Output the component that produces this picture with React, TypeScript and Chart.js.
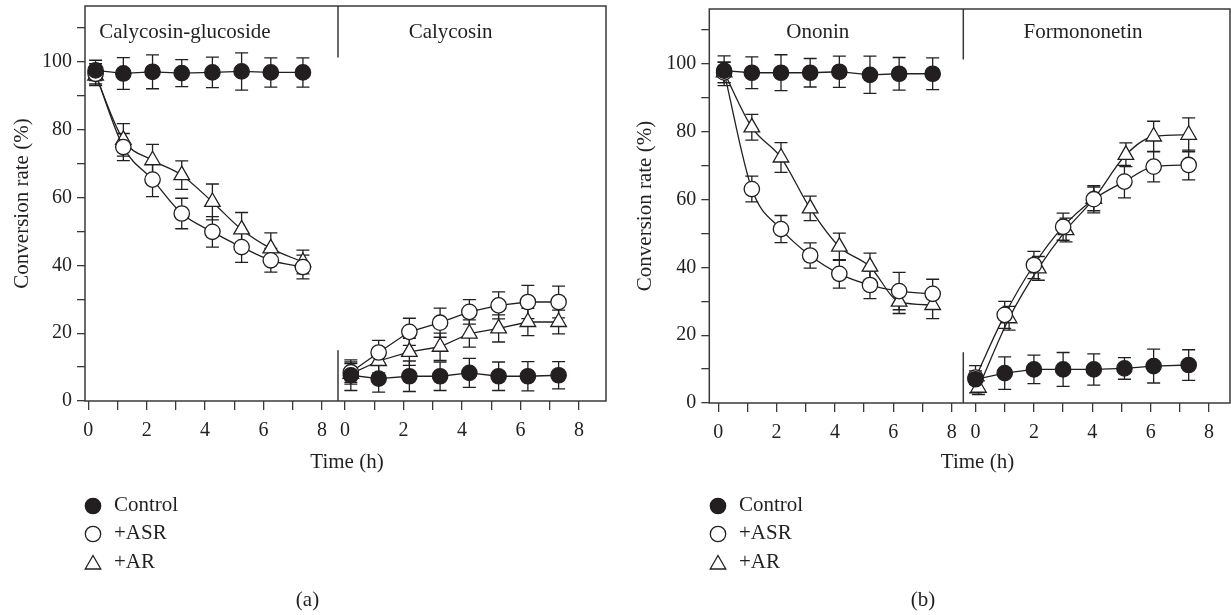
import React, { useEffect, useRef } from "react";
import { Chart, registerables } from "chart.js";

Chart.register(...registerables);

const FONT = "'Liberation Serif', 'Times New Roman', serif";
const INK = "#231f20";
const AXIS = "#3a3a3a";

const X_TICKS = [0, 1, 2, 3, 4, 5, 6, 7, 8];
const Y_TICKS = [0, 10, 20, 30, 40, 50, 60, 70, 80, 90, 100, 110];
const LEGEND_LABELS = ["Control", "+ASR", "+AR"];
const X_TITLE = "Time (h)";
const Y_TITLE = "Conversion rate (%)";

// ---- Panel (a), left: Calycosin-glucoside
const A1_TITLE = "Calycosin-glucoside";
const A1_TIME = [0.25, 1.2, 2.2, 3.2, 4.25, 5.25, 6.25, 7.35];
const A1_CONTROL = [97.5, 96.6, 97.1, 96.7, 96.9, 97.2, 96.9, 96.9];
const A1_CONTROL_ERR = [3, 4.7, 5, 4, 4.5, 5.5, 4.3, 4.3];
const A1_ASR = [96.5, 74.9, 65.3, 55.3, 49.9, 45.4, 41.5, 39.5];
const A1_ASR_ERR = [3, 4, 5, 4.5, 4.5, 4.5, 3.5, 3.5];
const A1_AR = [96, 77, 71, 66.6, 58.7, 50.6, 45, 41];
const A1_AR_ERR = [3, 4.8, 4.7, 4.2, 5.3, 5, 4.6, 3.5];

// ---- Panel (a), right: Calycosin
const A2_TITLE = "Calycosin";
const A2_TIME = [0.2, 1.15, 2.2, 3.25, 4.25, 5.25, 6.25, 7.3];
const A2_CONTROL = [7.6, 6.6, 7.3, 7.3, 8.3, 7.3, 7.3, 7.6];
const A2_CONTROL_ERR = [4.5, 4, 4.5, 4.2, 4.3, 4.2, 4.3, 4];
const A2_ASR = [8.5, 14.3, 20.4, 23.1, 26.3, 28.2, 29.2, 29.2];
const A2_ASR_ERR = [3, 3.6, 4, 4.3, 3.6, 4, 4.9, 4.7];
const A2_AR = [8, 11.8, 14.5, 16, 19.9, 21.4, 23.3, 23.3];
const A2_AR_ERR = [3, 3.5, 4, 4, 4, 4, 4, 3.5];

// ---- Panel (b), left: Ononin
const B1_TITLE = "Ononin";
const B1_TIME = [0.2, 1.15, 2.15, 3.15, 4.15, 5.2, 6.2, 7.35];
const B1_CONTROL = [98.0, 97.4, 97.4, 97.4, 97.7, 96.8, 97.1, 97.1];
const B1_CONTROL_ERR = [4.4, 4.7, 5.3, 4.2, 4.6, 5.5, 4.8, 4.7];
const B1_ASR = [97.5, 63.1, 51.3, 43.5, 38.1, 34.8, 33.0, 32.2];
const B1_ASR_ERR = [3, 3.8, 4, 3.7, 4.2, 4, 5.5, 4.3];
const B1_AR = [97.5, 81.3, 72.4, 57.4, 46.1, 40.2, 29.9, 28.9];
const B1_AR_ERR = [3, 3.8, 4.4, 3.6, 4, 4, 3.5, 4];

// ---- Panel (b), right: Formononetin
const B2_TITLE = "Formononetin";
const B2_TIME = [0, 1, 2, 3, 4.05, 5.1, 6.1, 7.3];
const B2_AR_TIME = [0.1, 1.15, 2.15, 3.1, 4.05, 5.15, 6.1, 7.3];
const B2_CONTROL = [7.0, 8.8, 9.9, 9.9, 9.9, 10.2, 10.9, 11.2];
const B2_CONTROL_ERR = [4, 4.8, 4.2, 5, 4.6, 3.2, 5, 4.5];
const B2_ASR = [7.5, 26.0, 40.7, 52.0, 60.1, 65.3, 69.7, 70.2];
const B2_ASR_ERR = [2, 4, 4, 4, 4, 4.8, 4.5, 4.4];
const B2_AR = [4.5, 25.0, 39.7, 51.0, 60.2, 73.2, 78.6, 79.1];
const B2_AR_ERR = [2, 3.5, 3.5, 3.5, 3.5, 3.5, 4.5, 5];

type Kind = "fill" | "open" | "tri";
type Series = {
  label: string;
  xs: number[];
  ys: number[];
  errs: number[];
  kind: Kind;
  axis: "x1" | "x2";
  smooth: boolean;
};

type PanelCfg = {
  left: number;
  width: number;
  yAxisW: number;
  padTop: number;
  padRight: number;
  padBottom: number;
  yMax: number;
  x1: { min: number; max: number; weight: number };
  x2: { min: number; max: number; weight: number };
  title1: string;
  title1At: number;
  title2: string;
  title2At: number;
  yTitleX: number;
  legendX: number;
  label: string;
  series: Series[];
};

const PANEL_A: PanelCfg = {
  left: 0,
  width: 615,
  yAxisW: 85,
  padTop: 6,
  padRight: 9,
  padBottom: 174,
  yMax: 116.5,
  x1: { min: -0.113, max: 8.551, weight: 253 },
  x2: { min: -0.239, max: 8.92, weight: 268 },
  title1: A1_TITLE,
  title1At: 3.31,
  title2: A2_TITLE,
  title2At: 3.61,
  yTitleX: 22,
  legendX: 93,
  label: "(a)",
  series: [
    { label: "Control", xs: A1_TIME, ys: A1_CONTROL, errs: A1_CONTROL_ERR, kind: "fill", axis: "x1", smooth: false },
    { label: "+ASR", xs: A1_TIME, ys: A1_ASR, errs: A1_ASR_ERR, kind: "open", axis: "x1", smooth: true },
    { label: "+AR", xs: A1_TIME, ys: A1_AR, errs: A1_AR_ERR, kind: "tri", axis: "x1", smooth: true },
    { label: "Control", xs: A2_TIME, ys: A2_CONTROL, errs: A2_CONTROL_ERR, kind: "fill", axis: "x2", smooth: false },
    { label: "+ASR", xs: A2_TIME, ys: A2_ASR, errs: A2_ASR_ERR, kind: "open", axis: "x2", smooth: false },
    { label: "+AR", xs: A2_TIME, ys: A2_AR, errs: A2_AR_ERR, kind: "tri", axis: "x2", smooth: false },
  ],
};

const PANEL_B: PanelCfg = {
  left: 615,
  width: 616,
  yAxisW: 94.3,
  padTop: 9,
  padRight: 1,
  padBottom: 172,
  yMax: 116.2,
  x1: { min: -0.308, max: 8.4, weight: 254 },
  x2: { min: -0.418, max: 8.715, weight: 266.7 },
  title1: B1_TITLE,
  title1At: 3.41,
  title2: B2_TITLE,
  title2At: 3.68,
  yTitleX: 30,
  legendX: 103,
  label: "(b)",
  series: [
    { label: "Control", xs: B1_TIME, ys: B1_CONTROL, errs: B1_CONTROL_ERR, kind: "fill", axis: "x1", smooth: false },
    { label: "+ASR", xs: B1_TIME, ys: B1_ASR, errs: B1_ASR_ERR, kind: "open", axis: "x1", smooth: true },
    { label: "+AR", xs: B1_TIME, ys: B1_AR, errs: B1_AR_ERR, kind: "tri", axis: "x1", smooth: true },
    { label: "Control", xs: B2_TIME, ys: B2_CONTROL, errs: B2_CONTROL_ERR, kind: "fill", axis: "x2", smooth: false },
    { label: "+ASR", xs: B2_TIME, ys: B2_ASR, errs: B2_ASR_ERR, kind: "open", axis: "x2", smooth: true },
    { label: "+AR", xs: B2_AR_TIME, ys: B2_AR, errs: B2_AR_ERR, kind: "tri", axis: "x2", smooth: true },
  ],
};

const LEGEND_Y = [506, 534, 563];
const DIV_TOP = 101.3;
const DIV_BOTTOM = 15;

function drawMarker(ctx: CanvasRenderingContext2D, kind: Kind, x: number, y: number) {
  ctx.save();
  ctx.lineWidth = 1.3;
  ctx.strokeStyle = INK;
  ctx.beginPath();
  if (kind === "tri") {
    const r = 9;
    for (let k = 0; k < 3; k++) {
      const ang = (k * 2 * Math.PI) / 3;
      const px = x + Math.sin(ang) * r;
      const py = y + 1.5 - Math.cos(ang) * r;
      if (k === 0) ctx.moveTo(px, py);
      else ctx.lineTo(px, py);
    }
    ctx.closePath();
    ctx.fillStyle = "#fff";
  } else {
    ctx.arc(x, y, 7.7, 0, Math.PI * 2);
    ctx.fillStyle = kind === "fill" ? INK : "#fff";
  }
  ctx.fill();
  ctx.stroke();
  ctx.restore();
}

function Panel({ cfg }: { cfg: PanelCfg }) {
  const ref = useRef<HTMLCanvasElement | null>(null);

  useEffect(() => {
    const canvas = ref.current;
    if (!canvas) return;

    const tickFont = { family: FONT, size: 20 };

    const xScale = (s: { min: number; max: number; weight: number }) => ({
      type: "linear",
      position: "bottom",
      stack: "time",
      stackWeight: s.weight,
      min: s.min,
      max: s.max,
      afterBuildTicks: (sc: any) => {
        sc.ticks = X_TICKS.map((v) => ({ value: v }));
      },
      afterFit: (sc: any) => {
        sc.height = 40;
        sc.paddingLeft = 0;
        sc.paddingRight = 0;
        sc.paddingTop = 0;
        sc.paddingBottom = 0;
      },
      grid: {
        display: true,
        drawOnChartArea: false,
        drawTicks: true,
        tickLength: 9,
        tickWidth: 1.3,
        tickColor: AXIS,
        color: AXIS,
        lineWidth: 1.3,
      },
      border: { display: false },
      ticks: {
        autoSkip: false,
        maxRotation: 0,
        minRotation: 0,
        padding: 9,
        color: INK,
        font: tickFont,
        callback: (v: any) => (Number(v) % 2 === 0 ? String(v) : ""),
      },
    });

    const datasets = cfg.series.map((s) => ({
      label: s.label,
      data: s.xs.map((x, i) => ({ x, y: s.ys[i] })),
      errs: s.errs,
      xAxisID: s.axis,
      yAxisID: "y",
      borderColor: INK,
      borderWidth: 1.3,
      backgroundColor: "transparent",
      fill: false,
      showLine: true,
      tension: 0,
      cubicInterpolationMode: s.smooth ? "monotone" : "default",
      pointStyle: s.kind === "tri" ? "triangle" : "circle",
      pointRadius: s.kind === "tri" ? 9 : 7.7,
      pointHoverRadius: s.kind === "tri" ? 9 : 7.7,
      pointBackgroundColor: s.kind === "fill" ? INK : "#ffffff",
      pointBorderColor: INK,
      pointBorderWidth: 1.3,
      clip: false,
    }));

    const framePlugin = {
      id: "frameAndErrors",
      beforeDatasetsDraw(chart: any) {
        const { ctx, chartArea: a, scales } = chart;
        const y = scales.y;
        const x2 = scales.x2;
        ctx.save();
        ctx.strokeStyle = AXIS;
        ctx.lineWidth = 1.5;
        ctx.strokeRect(a.left, a.top, a.right - a.left, a.bottom - a.top);
        ctx.beginPath();
        ctx.moveTo(x2.left, a.top);
        ctx.lineTo(x2.left, y.getPixelForValue(DIV_TOP));
        ctx.moveTo(x2.left, y.getPixelForValue(DIV_BOTTOM));
        ctx.lineTo(x2.left, a.bottom);
        ctx.stroke();

        // error bars
        ctx.strokeStyle = INK;
        ctx.lineWidth = 1.3;
        const cap = 6.5;
        chart.data.datasets.forEach((ds: any, i: number) => {
          const meta = chart.getDatasetMeta(i);
          meta.data.forEach((pt: any, j: number) => {
            const v = ds.data[j].y;
            const e = ds.errs[j];
            const yt = y.getPixelForValue(v + e);
            const yb = y.getPixelForValue(v - e);
            const x = pt.x;
            ctx.beginPath();
            ctx.moveTo(x, yt);
            ctx.lineTo(x, yb);
            ctx.moveTo(x - cap, yt);
            ctx.lineTo(x + cap, yt);
            ctx.moveTo(x - cap, yb);
            ctx.lineTo(x + cap, yb);
            ctx.stroke();
          });
        });
        ctx.restore();
      },
      afterDraw(chart: any) {
        const { ctx, chartArea: a, scales } = chart;
        const x1 = scales.x1;
        const x2 = scales.x2;
        ctx.save();
        ctx.fillStyle = INK;
        ctx.font = `21px ${FONT}`;
        ctx.textAlign = "center";
        ctx.textBaseline = "middle";
        ctx.fillText(cfg.title1, x1.getPixelForValue(cfg.title1At), 32);
        ctx.fillText(cfg.title2, x2.getPixelForValue(cfg.title2At), 32);
        ctx.fillText(X_TITLE, x2.getPixelForValue(0) + 2, 462);

        ctx.save();
        ctx.translate(cfg.yTitleX, (a.top + a.bottom) / 2);
        ctx.rotate(-Math.PI / 2);
        ctx.fillText(Y_TITLE, 0, 0);
        ctx.restore();

        const kinds: Kind[] = ["fill", "open", "tri"];
        LEGEND_LABELS.forEach((lab, i) => {
          drawMarker(ctx, kinds[i], cfg.legendX, LEGEND_Y[i]);
          ctx.fillStyle = INK;
          ctx.textAlign = "left";
          ctx.fillText(lab, cfg.legendX + 21, LEGEND_Y[i] - 1);
        });

        ctx.textAlign = "center";
        ctx.fillText(cfg.label, chart.width / 2, 600);
        ctx.restore();
      },
    };

    const chart = new Chart(canvas, {
      type: "line",
      data: { datasets } as any,
      options: {
        animation: false,
        responsive: false,
        devicePixelRatio: 1,
        events: [],
        layout: {
          autoPadding: false,
          padding: { left: 0, top: cfg.padTop, right: cfg.padRight, bottom: cfg.padBottom },
        },
        plugins: {
          legend: { display: false },
          tooltip: { enabled: false },
          title: { display: false },
        },
        scales: {
          x1: xScale(cfg.x1),
          x2: xScale(cfg.x2),
          y: {
            type: "linear",
            position: "left",
            min: 0,
            max: cfg.yMax,
            afterBuildTicks: (sc: any) => {
              sc.ticks = Y_TICKS.map((v) => ({ value: v }));
            },
            afterFit: (sc: any) => {
              sc.width = cfg.yAxisW;
              sc.paddingTop = 0;
              sc.paddingBottom = 0;
              sc.paddingLeft = 0;
              sc.paddingRight = 0;
            },
            grid: {
              display: true,
              drawOnChartArea: false,
              drawTicks: true,
              tickLength: 8,
              tickWidth: 1.3,
              tickColor: AXIS,
              color: AXIS,
              lineWidth: 1.3,
            },
            border: { display: false },
            ticks: {
              padding: 5,
              color: INK,
              font: tickFont,
              autoSkip: false,
              callback: (v: any) => (Number(v) % 20 === 0 ? String(v) : ""),
            },
          },
        } as any,
      } as any,
      plugins: [framePlugin],
    } as any);

    return () => chart.destroy();
  }, [cfg]);

  return (
    <canvas
      ref={ref}
      width={cfg.width}
      height={615}
      style={{ position: "absolute", left: cfg.left, top: 0, width: cfg.width, height: 615 }}
    />
  );
}

export default function App() {
  return (
    <div
      style={{
        position: "fixed",
        left: 0,
        top: 0,
        width: 1231,
        height: 615,
        background: "#ffffff",
        overflow: "hidden",
      }}
    >
      <Panel cfg={PANEL_A} />
      <Panel cfg={PANEL_B} />
    </div>
  );
}
